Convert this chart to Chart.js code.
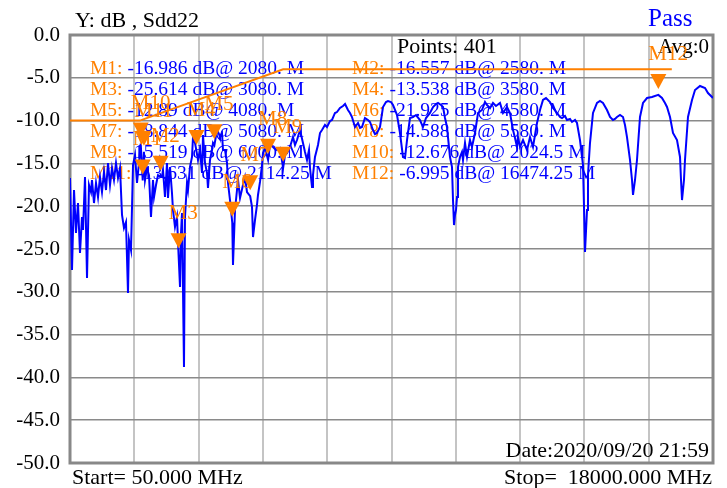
<!DOCTYPE html>
<html>
<head>
<meta charset="utf-8">
<script src="https://cdn.jsdelivr.net/npm/chart.js@4.4.1/dist/chart.umd.min.js"></script>
<style>
html, body { margin: 0; padding: 0; background: #fff; }
#wrap { width: 727px; height: 488px; }
</style>
</head>
<body>
<div id="wrap"><canvas id="c" width="727" height="488"></canvas></div>
<script>
// trace, MHz / dB
let freqMHz = [
    50,106,162,217,273,329,385,413,469,525,
    580,636,664,720,776,832,887,943,999,1055,
    1111,1167,1222,1278,1334,1390,1446,1502,1557,1613,
    1669,1697,1753,1809,1865,1920,1976,2024,2080,2114,
    2144,2199,2255,2311,2367,2395,2451,2507,2580,
    2618,2646,2702,2758,2786,2842,2897,2925,2981,3037,
    3080,3121,3149,3177,3232,3260,3316,3344,3400,3456,
    3484,3540,3580,3623,3679,3735,3763,3819,3875,3902,
    3958,4014,4042,4080,4154,4210,4237,4293,4321,4377,
    4433,4461,4517,4580,4600,4656,4712,4740,4796,4879,
    4935,4991,5080,5131,5159,5215,5270,5298,5354,5410,
    5438,5494,5580,5633,5717,5801,5912,6000,
    6052,6108,6191,6275,6331,6387,6471,6554,6610,6666,
    6722,6750,6806,6833,6889,6973,7029,7085,7168,7224,
    7308,7364,7447,7503,7587,7671,7728,7810,7866,7922,
    8006,8090,8146,8201,8284,8368,8425,8508,8564,8620,
    8704,8788,8871,8927,9011,9067,9123,9179,9262,9346,
    9402,9458,9541,9625,9709,9820,9904,9988,10100,10184,
    10267,10323,10407,10463,10519,10574,10602,10658,10714,10742,
    10770,10798,10826,10854,10881,10937,10993,11021,11077,11133,
    11216,11272,11356,11440,11551,11635,11691,11775,11858,11942,
    12054,12138,12249,12333,12417,12473,12528,12556,12612,12696,
    12808,12891,12975,13087,13171,13254,13338,13450,13533,13645,
    13729,13785,13868,13924,14008,14064,14148,14203,14287,14371,
    14399,14427,14483,14510,14566,14650,14762,14845,14929,15041,
    15125,15208,15264,15320,15404,15488,15543,15599,15683,15739,
    15767,15823,15878,15962,16046,16158,16297,16474,16576,16660,
    16716,16800,16883,16995,17079,17107,17135,17190,17218,17302,
    17414,17498,17637,17777,17860,18000
];
let sdd22 = [
    -16.71,-27.45,-18.11,-23.13,-19.63,-25.47,-21.26,-22.78,-16.59,-28.39,
    -17.52,-18.34,-16.94,-19.63,-17.29,-18.93,-16.59,-18.34,-16.0,-18.11,
    -14.95,-17.52,-15.54,-16.94,-14.95,-16.71,-15.54,-21.03,-22.55,-21.85,
    -30.14,-23.95,-25.12,-15.19,-14.02,-17.29,-14.95,-12.68,-16.99,-13.63,
    -16.94,-15.54,-16.36,-21.26,-16.94,-18.93,-17.52,-16.36,-16.56,
    -16.59,-15.77,-18.93,-14.95,-19.04,-15.42,-18.46,-20.44,-22.43,-21.26,
    -25.61,-29.44,-23.13,-20.79,-38.79,-21.26,-17.29,-18.11,-15.42,-14.25,
    -11.92,-12.62,-13.54,-14.6,-13.43,-16.12,-11.68,-14.95,-16.12,-17.87,
    -14.6,-13.43,-12.62,-12.89,-11.1,-11.57,-11.92,-11.45,-13.43,-13.43,
    -14.95,-17.29,-19.28,-21.93,-26.87,-20.44,-18.11,-16.94,-19.04,-17.52,
    -16.59,-18.34,-18.84,-20.09,-23.6,-21.61,-19.86,-18.69,-17.17,-15.19,
    -13.79,-13.2,-14.59,-12.85,-13.08,-13.43,-13.2,-15.52,
    -14.02,-13.79,-13.08,-11.92,-12.85,-12.27,-11.1,-12.62,-13.67,-14.6,
    -13.43,-15.54,-17.76,-16.36,-14.25,-12.85,-11.45,-11.1,-10.51,-10.75,
    -10.05,-9.93,-9.11,-9.0,-8.53,-8.29,-8.06,-8.76,-9.11,-9.58,
    -10.75,-10.28,-10.86,-10.75,-9.70,-9.93,-10.16,-11.1,-11.57,-11.45,
    -10.75,-8.41,-7.83,-7.71,-7.83,-8.18,-8.76,-9.35,-11.45,-14.25,
    -14.37,-12.27,-9.70,-9.58,-9.35,-9.93,-10.75,-9.70,-9.11,-8.41,
    -8.06,-7.94,-8.18,-8.41,-9.70,-10.75,-11.92,-14.25,-15.42,-19.28,
    -22.2,-21.03,-20.44,-18.93,-15.42,-14.25,-13.67,-14.6,-12.62,-14.25,
    -12.27,-13.08,-11.45,-9.11,-8.76,-7.83,-8.18,-8.53,-7.94,-8.29,
    -7.94,-9.11,-8.41,-9.11,-11.1,-12.03,-13.08,-11.92,-13.08,-12.27,
    -13.43,-11.92,-13.08,-10.28,-8.76,-7.59,-7.36,-7.83,-8.53,-9.11,
    -9.58,-9.70,-9.46,-9.93,-9.81,-10.16,-9.93,-10.28,-12.27,-15.19,
    -20.09,-25.35,-20.44,-16.36,-12.62,-9.11,-7.94,-7.71,-7.94,-8.76,
    -9.58,-9.93,-9.81,-9.58,-9.35,-9.58,-10.51,-11.92,-14.6,-16.94,
    -18.69,-16.94,-14.6,-9.58,-7.94,-7.36,-7.24,-7.0,-7.36,-7.94,
    -8.41,-9.58,-11.45,-12.27,-14.25,-16.94,-19.28,-16.94,-14.6,-9.58,
    -7.59,-6.43,-5.96,-6.19,-6.78,-7.36
];

// limit line
let limitMHz = [50, 2000, 6000, 16850];
let limitDb = [-10, -10, -4, -4];

// markers
let markerNames = ['M1','M2','M3','M4','M5','M6','M7','M8','M9','M10','M11','M12'];
let markerMHz = [2080, 2580, 3080, 3580, 4080, 4580, 5080, 5580, 6000, 2024.5, 2114.25, 16474.25];
let markerDb = [-16.986, -16.557, -25.614, -13.538, -12.89, -21.925, -18.844, -14.588, -15.519, -12.676, -13.631, -6.995];

let startMHz = 50;
let stopMHz = 18000;
let yTicks = [0, -5, -10, -15, -20, -25, -30, -35, -40, -45, -50];

const ORANGE = '#ff8000';
const BLUE = '#0000ff';
const SERIF = '"Liberation Serif", "Times New Roman", serif';

function fmtFreq(f) {
    return Number.isInteger(f) ? f + '.' : String(f);
}

const vnaText = {
    id: 'vnaText',
    beforeDatasetsDraw(chart) {
        const ctx = chart.ctx;
        const a = chart.chartArea;
        ctx.save();
        // frame
        ctx.strokeStyle = '#888';
        ctx.lineWidth = 3;
        ctx.strokeRect(a.left, a.top, a.right - a.left, a.bottom - a.top);

        // marker table
        ctx.font = '19.5px ' + SERIF;
        ctx.textBaseline = 'alphabetic';
        ctx.textAlign = 'left';
        for (let i = 0; i < markerNames.length; i++) {
            const col = i % 2;
            const row = Math.floor(i / 2);
            const x = col === 0 ? 90 : 352;
            const y = 74 + row * 21;
            const head = markerNames[i] + ': ';
            ctx.fillStyle = ORANGE;
            ctx.fillText(head, x, y);
            ctx.fillStyle = BLUE;
            ctx.fillText(markerDb[i] + ' dB@ ' + fmtFreq(markerMHz[i]) + ' M', x + ctx.measureText(head).width, y);
        }

        ctx.fillStyle = '#000';
        ctx.font = '22px ' + SERIF;
        ctx.fillText('Points: 401', 397, 53);
        ctx.textAlign = 'right';
        ctx.font = '21px ' + SERIF;
        ctx.fillText('Avg:0', 709, 53);
        ctx.restore();
    },
    afterDatasetsDraw(chart) {
        const ctx = chart.ctx;
        const xs = chart.scales.x, ys = chart.scales.y;
        ctx.save();
        for (let i = 0; i < markerNames.length; i++) {
            const px = xs.getPixelForValue(markerMHz[i]);
            const py = ys.getPixelForValue(markerDb[i]);
            ctx.fillStyle = ORANGE;
            ctx.beginPath();
            ctx.moveTo(px - 8, py - 21);
            ctx.lineTo(px + 8, py - 21);
            ctx.lineTo(px, py - 6);
            ctx.closePath();
            ctx.fill();
            ctx.font = '21px ' + SERIF;
            ctx.textAlign = 'left';
            ctx.fillText(markerNames[i], px - 10, py - 35);
        }

        // outside labels
        ctx.fillStyle = '#000';
        ctx.font = '22px ' + SERIF;
        ctx.textAlign = 'left';
        ctx.fillText('Y: dB , Sdd22', 75, 27);
        ctx.fillStyle = BLUE;
        ctx.font = '25px ' + SERIF;
        ctx.fillText('Pass', 648, 26);

        ctx.fillStyle = '#000';
        ctx.font = '22px ' + SERIF;
        ctx.textAlign = 'right';
        ctx.fillText('Date:2020/09/20 21:59', 709, 457);
        ctx.textAlign = 'left';
        ctx.fillText('Start= ' + startMHz.toFixed(3) + ' MHz', 72, 484);
        ctx.textAlign = 'right';
        ctx.fillText('Stop=  ' + stopMHz.toFixed(3) + ' MHz', 712, 484);
        ctx.restore();
    }
};

const ctx = document.getElementById('c').getContext('2d');
const chart = new Chart(ctx, {
    type: 'line',
    data: {
        datasets: [
            {
                label: 'Sdd22',
                data: freqMHz.map((f, i) => ({ x: f, y: sdd22[i] })),
                borderColor: BLUE,
                borderWidth: 2,
                pointRadius: 0,
                tension: 0
            },
            {
                label: 'Limit',
                data: limitMHz.map((f, i) => ({ x: f, y: limitDb[i] })),
                borderColor: ORANGE,
                borderWidth: 2,
                pointRadius: 0,
                tension: 0
            }
        ]
    },
    options: {
        responsive: false,
        animation: false,
        devicePixelRatio: 1,
        layout: { padding: { left: 0, right: 14, top: 35, bottom: 25 } },
        scales: {
            x: {
                type: 'linear',
                min: startMHz,
                max: stopMHz,
                afterBuildTicks: s => {
                    s.ticks = [];
                    for (let i = 0; i <= 10; i++) s.ticks.push({ value: startMHz + i * (stopMHz - startMHz) / 10 });
                },
                ticks: { display: false },
                grid: { color: '#c4c4c4', lineWidth: 2, drawTicks: false },
                border: { display: false },
                afterFit: s => { s.height = 0; }
            },
            y: {
                min: -50,
                max: 0,
                afterBuildTicks: s => { s.ticks = yTicks.map(v => ({ value: v })); },
                ticks: {
                    callback: v => v.toFixed(1),
                    color: '#000',
                    padding: 10,
                    font: { family: SERIF, size: 21 }
                },
                grid: { color: '#8a8a8a', lineWidth: 1.5, drawTicks: false },
                border: { display: false },
                afterFit: s => { s.width = 70; }
            }
        },
        plugins: {
            legend: { display: false },
            tooltip: { enabled: false }
        }
    },
    plugins: [vnaText]
});
</script>
</body>
</html>
